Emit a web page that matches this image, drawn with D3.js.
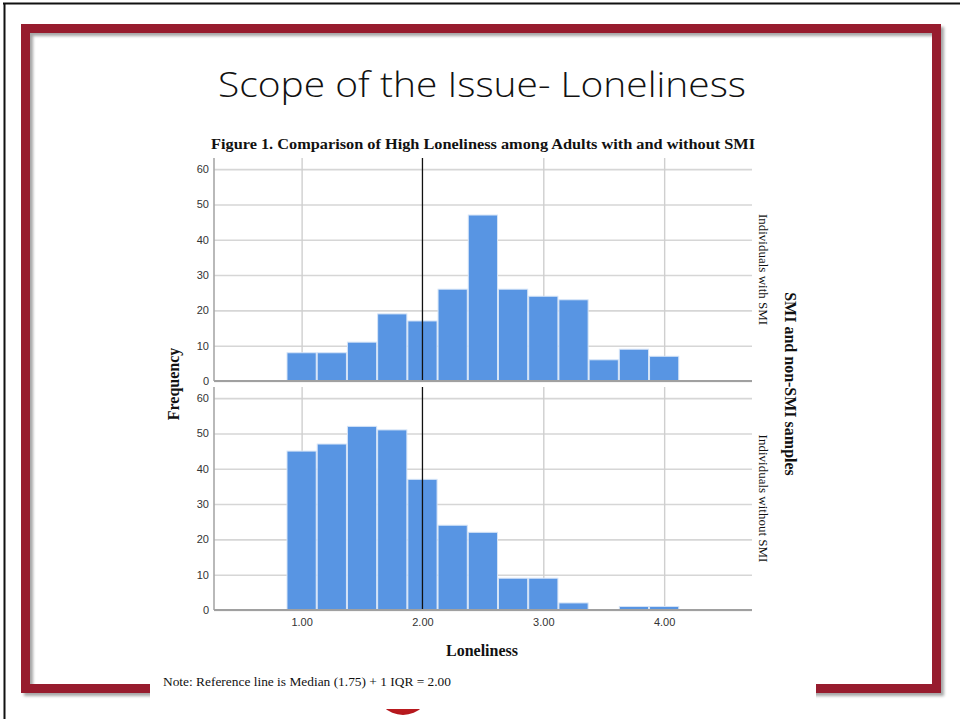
<!DOCTYPE html>
<html>
<head>
<meta charset="utf-8">
<script src="https://cdn.jsdelivr.net/npm/d3@7"></script>
<style>
  html, body { margin: 0; padding: 0; background: #fff; }
  svg { display: block; }
</style>
</head>
<body>
<svg id="slide" width="960" height="719"></svg>
<script>
// Histogram bins (centre of each 0.25-wide loneliness bin)
const binCenters = [1.00, 1.25, 1.50, 1.75, 2.00, 2.25, 2.50, 2.75, 3.00, 3.25, 3.50, 3.75, 4.00];
const binWidth = 0.25;
// Frequencies per bin
const withSMI    = [8, 8, 11, 19, 17, 26, 47, 26, 24, 23, 6, 9, 7];
const withoutSMI = [45, 47, 52, 51, 37, 24, 22, 9, 9, 2, 0, 1, 1];
const panelLabels = ["Individuals with SMI", "Individuals without SMI"];
// Axis ticks
const yTicks = [0, 10, 20, 30, 40, 50, 60];
const xTicks = [1, 2, 3, 4];
const xTickLabels = ["1.00", "2.00", "3.00", "4.00"];
// Reference line: median (1.75) + 1 IQR
const refLine = 2.00;

const svg = d3.select("#slide");
const defs = svg.append("defs");

const shadow = defs.append("filter").attr("id", "frameShadow")
  .attr("x", "-5%").attr("y", "-5%").attr("width", "110%").attr("height", "110%");
shadow.append("feDropShadow").attr("dx", 3).attr("dy", 3).attr("stdDeviation", 1.8)
  .attr("flood-color", "#000").attr("flood-opacity", 0.35);

const dotGrad = defs.append("radialGradient").attr("id", "dotGrad")
  .attr("cx", "50%").attr("cy", "40%").attr("r", "60%");
dotGrad.append("stop").attr("offset", "0%").attr("stop-color", "#e0352f");
dotGrad.append("stop").attr("offset", "100%").attr("stop-color", "#b3161c");

// Slide edge lines
svg.append("line").attr("x1", 3).attr("x2", 960).attr("y1", 3.5).attr("y2", 3.5)
  .attr("stroke", "#111").attr("stroke-width", 2);
svg.append("line").attr("x1", 4.5).attr("x2", 4.5).attr("y1", 3).attr("y2", 719)
  .attr("stroke", "#111").attr("stroke-width", 2);

// Decorative red circle peeking below the figure
svg.append("circle").attr("cx", 403).attr("cy", 687).attr("r", 28).attr("fill", "url(#dotGrad)");

// Red slide frame
svg.append("rect")
  .attr("x", 25.5).attr("y", 28.5).attr("width", 911).attr("height", 660)
  .attr("fill", "none").attr("stroke", "#971b2f").attr("stroke-width", 9)
  .attr("filter", "url(#frameShadow)");

// Slide title
svg.append("text")
  .attr("x", 218).attr("y", 97)
  .attr("textLength", 528).attr("lengthAdjust", "spacingAndGlyphs")
  .style("font-family", "'Open Sans', 'Noto Sans', sans-serif")
  .style("font-weight", 300).style("font-size", "35px").attr("fill", "#111")
  .text("Scope of the Issue- Loneliness");

// Figure area (white backdrop over the frame)
svg.append("rect").attr("x", 150).attr("y", 125).attr("width", 666).attr("height", 584).attr("fill", "#fff");

const serif = "'Liberation Serif', 'Times New Roman', 'DejaVu Serif', serif";
const sans = "'Liberation Sans', Arial, sans-serif";

svg.append("text")
  .attr("x", 211).attr("y", 149)
  .attr("textLength", 544).attr("lengthAdjust", "spacingAndGlyphs")
  .style("font-family", serif).style("font-weight", "bold").style("font-size", "15px")
  .attr("fill", "#111")
  .text("Figure 1. Comparison of High Loneliness among Adults with and without SMI");

// Scales
const plotLeft = 214, plotRight = 752;
const x = d3.scaleLinear().domain([0.275, 4.727]).range([plotLeft, plotRight]);

const panels = [
  { label: panelLabels[0], values: withSMI, top: 158, bottom: 381, showX: false },
  { label: panelLabels[1], values: withoutSMI, top: 387, bottom: 610, showX: true }
];

panels.forEach(p => {
  const y = d3.scaleLinear().domain([0, 63.15]).range([p.bottom, p.top]);
  const g = svg.append("g");

  // Horizontal gridlines
  g.append("g")
    .attr("transform", `translate(${plotLeft},0)`)
    .call(d3.axisLeft(y).tickValues(yTicks).tickSize(-(plotRight - plotLeft)).tickFormat(""))
    .call(a => a.select(".domain").remove())
    .call(a => a.selectAll("line").attr("stroke", "#d6d6d6").attr("stroke-width", 1.6));

  // Vertical gridlines
  g.append("g")
    .attr("transform", `translate(0,${p.bottom})`)
    .call(d3.axisBottom(x).tickValues(xTicks.filter(t => t !== refLine)).tickSize(-(p.bottom - p.top)).tickFormat(""))
    .call(a => a.select(".domain").remove())
    .call(a => a.selectAll("line").attr("stroke", "#cfcfcf").attr("stroke-width", 1.4));

  // Bars
  g.append("g").selectAll("rect")
    .data(binCenters.map((c, i) => ({ c, v: p.values[i] })).filter(d => d.v > 0))
    .join("rect")
    .attr("x", d => x(d.c - binWidth / 2) + 0.5)
    .attr("width", d => x(d.c + binWidth / 2) - x(d.c - binWidth / 2) - 1)
    .attr("y", d => y(d.v))
    .attr("height", d => y(0) - y(d.v))
    .attr("fill", "#5895e3")
    .attr("stroke", "#d5e4f7").attr("stroke-width", 1);

  // Reference line
  g.append("line")
    .attr("x1", x(refLine)).attr("x2", x(refLine))
    .attr("y1", p.top).attr("y2", p.bottom)
    .attr("stroke", "#111").attr("stroke-width", 1.3);

  // Y axis labels
  g.append("g")
    .attr("transform", `translate(${plotLeft},0)`)
    .call(d3.axisLeft(y).tickValues(yTicks).tickSize(0).tickPadding(5).tickFormat(d3.format("d")))
    .call(a => a.select(".domain").remove())
    .call(a => a.selectAll("text").style("font-family", sans).style("font-size", "11px").attr("fill", "#333"));

  // Axis lines
  g.append("line").attr("x1", plotLeft).attr("x2", plotLeft).attr("y1", p.top).attr("y2", p.bottom)
    .attr("stroke", "#a8a8a8").attr("stroke-width", 1.6);
  g.append("line").attr("x1", plotLeft).attr("x2", plotRight).attr("y1", p.bottom).attr("y2", p.bottom)
    .attr("stroke", "#a0a0a0").attr("stroke-width", 2);

  if (p.showX) {
    g.append("g")
      .attr("transform", `translate(0,${p.bottom})`)
      .call(d3.axisBottom(x).tickValues(xTicks).tickSize(0).tickPadding(8).tickFormat((d, i) => xTickLabels[i]))
      .call(a => a.select(".domain").remove())
      .call(a => a.selectAll("text").style("font-family", sans).style("font-size", "11px").attr("fill", "#333"));
  }

  // Panel label on the right
  const cy = (p.top + p.bottom) / 2;
  svg.append("text")
    .attr("transform", `translate(759,${cy}) rotate(90)`)
    .attr("text-anchor", "middle")
    .style("font-family", serif).style("font-size", "13px").attr("fill", "#111")
    .text(p.label);
});

// Axis titles
svg.append("text")
  .attr("transform", "translate(179,384) rotate(-90)")
  .attr("text-anchor", "middle")
  .style("font-family", serif).style("font-weight", "bold").style("font-size", "16px").attr("fill", "#111")
  .text("Frequency");

svg.append("text")
  .attr("x", 482).attr("y", 656)
  .attr("text-anchor", "middle")
  .style("font-family", serif).style("font-weight", "bold").style("font-size", "16px").attr("fill", "#111")
  .text("Loneliness");

svg.append("text")
  .attr("transform", "translate(785,384) rotate(90)")
  .attr("text-anchor", "middle")
  .style("font-family", serif).style("font-weight", "bold").style("font-size", "16px").attr("fill", "#111")
  .text("SMI and non-SMI samples");

// Footnote
svg.append("text")
  .attr("x", 163).attr("y", 686)
  .attr("textLength", 288).attr("lengthAdjust", "spacingAndGlyphs")
  .style("font-family", serif).style("font-size", "13px").attr("fill", "#111")
  .text("Note: Reference line is Median (1.75) + 1 IQR = 2.00");
</script>
</body>
</html>
